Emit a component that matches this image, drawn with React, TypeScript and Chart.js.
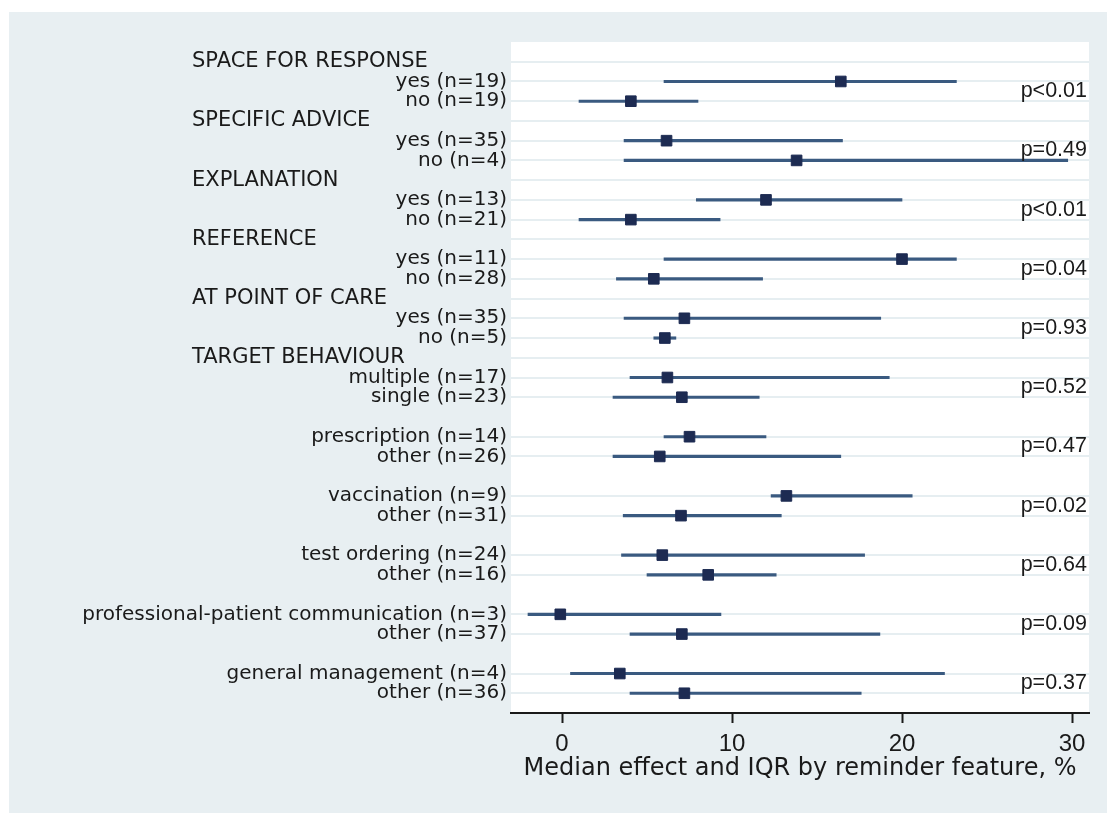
import React, { useEffect, useRef } from 'react';
import { Chart, registerables } from 'chart.js';
Chart.register(...registerables);

const W = 1098;
const H = 801;

const rowLabels = [
  'SPACE FOR RESPONSE', 'yes (n=19)', 'no (n=19)',
  'SPECIFIC ADVICE', 'yes (n=35)', 'no (n=4)',
  'EXPLANATION', 'yes (n=13)', 'no (n=21)',
  'REFERENCE', 'yes (n=11)', 'no (n=28)',
  'AT POINT OF CARE', 'yes (n=35)', 'no (n=5)',
  'TARGET BEHAVIOUR', 'multiple (n=17)', 'single (n=23)',
  '', 'prescription (n=14)', 'other (n=26)',
  '', 'vaccination (n=9)', 'other (n=31)',
  '', 'test ordering (n=24)', 'other (n=16)',
  '', 'professional-patient communication (n=3)', 'other (n=37)',
  '', 'general management (n=4)', 'other (n=36)',
];
const headerRows = [0, 3, 6, 9, 12, 15];
const dataRows = [1, 2, 4, 5, 7, 8, 10, 11, 13, 14, 16, 17, 19, 20, 22, 23, 25, 26, 28, 29, 31, 32];
const medians = [16.4, 4.05, 6.15, 13.8, 12.0, 4.05, 20.0, 5.4, 7.2, 6.05, 6.2, 7.05, 7.5, 5.75, 13.2, 7.0, 5.9, 8.6, -0.1, 7.05, 3.4, 7.2];
const iqrLow = [6.0, 1.0, 3.65, 3.65, 7.9, 1.0, 6.0, 3.2, 3.65, 5.4, 4.0, 3.0, 6.0, 3.0, 12.3, 3.6, 3.5, 5.0, -2.0, 4.0, 0.5, 4.0];
const iqrHigh = [23.2, 8.0, 16.5, 29.75, 20.0, 9.3, 23.2, 11.8, 18.75, 6.7, 19.25, 11.6, 12.0, 16.4, 20.6, 12.9, 17.8, 12.6, 9.35, 18.7, 22.5, 17.6];
const pRows = [1.5, 4.5, 7.5, 10.5, 13.5, 16.5, 19.5, 22.5, 25.5, 28.5, 31.5];
const pValues = ['p<0.01', 'p=0.49', 'p<0.01', 'p=0.04', 'p=0.93', 'p=0.52', 'p=0.47', 'p=0.02', 'p=0.64', 'p=0.09', 'p=0.37'];
const xTicks = [0, 10, 20, 30];
const xTitle = 'Median effect and IQR by reminder feature, %';

const TEXT = '#1a1a1a';

export default function App() {
  const ref = useRef<HTMLCanvasElement>(null);
  useEffect(() => {
    const canvas = ref.current!;
    const plotBg = {
      id: 'plotBg',
      beforeDraw(chart: any) {
        const { ctx, chartArea: a } = chart;
        ctx.save();
        ctx.fillStyle = '#ffffff';
        ctx.fillRect(a.left, a.top, a.right - a.left, a.bottom - a.top);
        ctx.restore();
      },
    };
    const annot = {
      id: 'annot',
      afterDraw(chart: any) {
        const { ctx, chartArea: a } = chart;
        const ys = chart.scales.y;
        ctx.save();
        ctx.fillStyle = TEXT;
        ctx.textBaseline = 'middle';
        ctx.font = '21px "DejaVu Sans"';
        ctx.textAlign = 'left';
        headerRows.forEach((r) => ctx.fillText(rowLabels[r], 183, ys.getPixelForValue(r)));
        ctx.font = '21.5px "Liberation Sans", Arial';
        ctx.textAlign = 'right';
        pRows.forEach((r, i) => ctx.fillText(pValues[i], a.right - 2, ys.getPixelForValue(r)));
        ctx.restore();
      },
    };
    const chart = new Chart(canvas, {
      type: 'scatter',
      data: {
        datasets: [
          {
            type: 'scatter',
            data: dataRows.map((r, i) => ({ x: medians[i], y: r })),
            pointStyle: 'rect',
            pointRadius: 7.5,
            pointHoverRadius: 7.5,
            backgroundColor: '#1d2b52',
            borderColor: '#1d2b52',
            borderWidth: 1,
            order: 0,
          } as any,
          {
            type: 'bar',
            indexAxis: 'y',
            data: dataRows.map((r, i) => ({ x: [iqrLow[i], iqrHigh[i]], y: r })),
            backgroundColor: '#3a5a80',
            borderWidth: 0,
            barThickness: 2.5,
            order: 1,
          } as any,
        ],
      },
      options: {
        responsive: false,
        animation: false,
        events: [],
        layout: { padding: { top: 30, right: 18, bottom: 0, left: 0 } },
        plugins: { legend: { display: false }, tooltip: { enabled: false } },
        scales: {
          x: {
            type: 'linear',
            min: -3,
            max: 31,
            offset: false,
            afterBuildTicks: (s: any) => {
              s.ticks = xTicks.map((v) => ({ value: v }));
            },
            afterFit: (s: any) => {
              s.height = 100;
            },
            grid: { offset: false, drawOnChartArea: false, drawTicks: true, tickLength: 10, tickWidth: 2, tickColor: TEXT },
            border: { display: true, color: TEXT, width: 2 },
            ticks: {
              font: { family: '"Liberation Sans", Arial', size: 24 },
              color: TEXT,
              padding: 7,
              maxRotation: 0,
              autoSkip: false,
            },
            title: {
              display: true,
              text: xTitle,
              font: { family: '"DejaVu Sans"', size: 24 },
              color: TEXT,
              padding: { top: 0, bottom: 30 },
            },
          },
          y: {
            type: 'linear',
            min: -1,
            max: 33,
            reverse: true,
            offset: false,
            afterBuildTicks: (s: any) => {
              s.ticks = rowLabels.map((_, i) => ({ value: i }));
            },
            afterFit: (s: any) => {
              s.width = 502;
            },
            grid: {
              offset: false,
              drawTicks: false,
              lineWidth: 2,
              color: (c: any) => {
                const v = c.tick ? c.tick.value : undefined;
                return v !== undefined && rowLabels[v] ? '#e6eef1' : 'rgba(0,0,0,0)';
              },
            },
            border: { display: false },
            ticks: {
              autoSkip: false,
              padding: 4,
              color: TEXT,
              font: { family: '"DejaVu Sans"', size: 20, lineHeight: 1 },
              callback: (v: any) => (headerRows.includes(v) ? '' : rowLabels[v] || ''),
            },
          },
        },
      },
      plugins: [plotBg, annot],
    } as any);
    return () => chart.destroy();
  }, []);
  return (
    <div style={{ position: 'fixed', left: 9, top: 12, width: W, height: H, background: '#e8eff2' }}>
      <canvas ref={ref} width={W} height={H} style={{ display: 'block' }} />
    </div>
  );
}
